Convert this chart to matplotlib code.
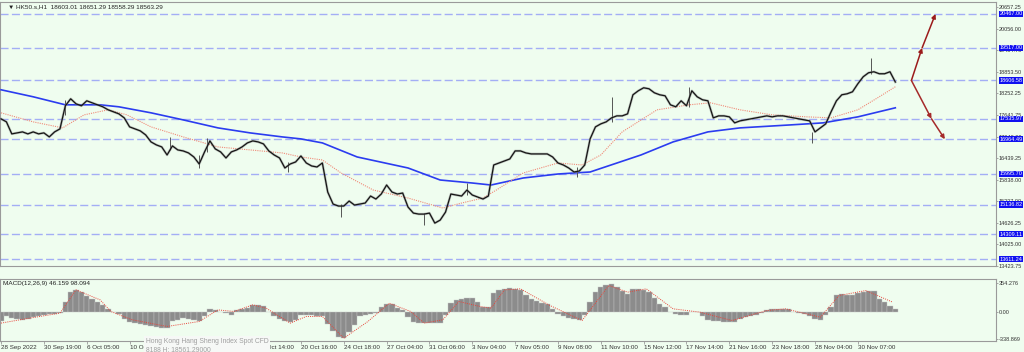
import numpy as np
import matplotlib.pyplot as plt

plt.rcParams['font.family'] = ['Liberation Sans', 'DejaVu Sans']

# hourly closes, one every 2 bars
closes = [17533, 17449, 17113, 17141, 17169, 17113, 17169, 17113, 17141, 17029,
          17169, 17253, 17898, 18094, 17954, 17898, 18038, 17982, 17926, 17870,
          17786, 17730, 17673, 17561, 17309, 17253, 17197, 17085, 16889, 16805,
          16749, 16524, 16777, 16665, 16637, 16581, 16468, 16272, 16609, 16917,
          16693, 16609, 16440, 16609, 16665, 16749, 16861, 16917, 16889, 16833,
          16637, 16524, 16440, 16160, 16272, 16328, 16496, 16300, 16216, 16188,
          16300, 15488, 15152, 15096, 15096, 15236, 15124, 15152, 15180, 15376,
          15292, 15432, 15684, 15488, 15432, 15460, 15067, 14899, 14871, 14871,
          14899, 14619, 14703, 14927, 15432, 15404, 15376, 15544, 15404, 15348,
          15292, 15376, 16244, 16300, 16356, 16412, 16637, 16637, 16581, 16553,
          16553, 16553, 16553, 16468, 16300, 16244, 16160, 16048, 16076, 16244,
          16973, 17309, 17393, 17449, 17561, 17617, 17617, 17673, 18206, 18318,
          18402, 18374, 18262, 18206, 18178, 17926, 17870, 18038, 17898, 18318,
          18150, 18066, 18038, 17561, 17617, 17617, 17589, 17421, 17477, 17505,
          17533, 17561, 17589, 17617, 17589, 17617, 17617, 17589, 17561, 17533,
          17505, 17477, 17169, 17281, 17393, 17730, 18038, 18206, 18234, 18290,
          18514, 18710, 18822, 18850, 18794, 18794, 18850, 18563]

# a few long wicks
wick_bars = [24, 63, 74, 77, 107, 127, 158, 174, 215, 228, 257, 303, 325]
wick_lo = [17645, 16665, 16160, 16609, 16048, 14788, 14563, 15404, 15908, 17449, 17870, 16861, 18794]
wick_hi = [18066, 17029, 16524, 17001, 16328, 15152, 14899, 15740, 16188, 18150, 18430, 17169, 19242]

ma_fast_bars = [0, 12, 23, 31, 40, 47, 56, 68, 81, 93, 105, 112, 120, 127, 139, 152, 165, 172,
                180, 185, 195, 208, 217, 224, 232, 245, 257, 265, 276, 288, 301, 310, 320, 328, 334]
ma_fast = [17702, 17449, 17281, 17645, 17786, 17645, 17309, 17029, 16749, 16665, 16581, 16468,
           16384, 16020, 15544, 15320, 15040, 15180, 15320, 15544, 16020, 16300, 16244, 16524,
           17169, 17786, 17926, 17982, 17786, 17645, 17589, 17561, 17786, 18150, 18430]

ma_slow_bars = [0, 12, 24, 37, 44, 56, 68, 81, 93, 105, 112, 120, 133, 152, 164, 176, 183, 195,
                208, 220, 239, 251, 264, 276, 295, 307, 320, 334]
ma_slow = [18346, 18150, 17926, 17926, 17870, 17702, 17505, 17281, 17141, 17029, 16973, 16861,
           16468, 16160, 15824, 15740, 15684, 15880, 15992, 16048, 16524, 16889, 17169, 17281,
           17365, 17421, 17589, 17842]

levels = [20467.00, 19517.00, 18606.58, 17535.97, 16964.49, 15995.70, 15136.82, 14309.11, 13611.24]
price_ticks = [20657.25, 20056.00, 19454.75, 18853.50, 18252.25, 17641.75, 17040.00, 16439.25,
               15838.00, 15237.00, 14626.25, 14025.00, 13423.75]

# MACD histogram, one every 2 bars
macd_hist = [-115, -50, -85, -95, -100, -98, -65, -50, -40, -35, -30, -20, 120, 240, 266, 240,
             190, 150, 115, 80, 35, 0, -35, -95, -135, -145, -155, -163, -178, -190, -198, -205,
             -115, -100, -82, -98, -110, -123, -60, 35, 15, 0, -20, -38, 15, 30, 41, 80, 75, 65,
             -5, -50, -90, -115, -135, -100, -41, -41, -45, -55, -61, -150, -246, -315, -328, -250,
             -170, -61, -45, -30, -20, 60, 95, 90, 41, 20, -70, -125, -143, -143, -143, -140, -143,
             -40, 105, 140, 150, 164, 165, 120, 60, 50, 230, 262, 280, 285, 278, 266, 200, 150, 125,
             110, 94, 35, -35, -55, -75, -92, -110, -40, 120, 240, 300, 325, 340, 300, 255, 220,
             275, 279, 270, 240, 165, 94, 60, 0, -35, -40, -48, 0, -5, -60, -105, -115, -120, -125,
             -128, -125, -90, -70, -55, -38, -20, 20, 25, 30, 32, 30, -8, -15, -25, -60, -95, -102,
             -40, 60, 205, 215, 200, 205, 230, 245, 255, 250, 160, 120, 70, 33]

signal_bars = [0, 7, 22, 28, 37, 41, 49, 62, 74, 81, 87, 94, 99, 108, 114, 120, 128, 137, 145,
               153, 158, 165, 171, 179, 183, 188, 194, 205, 217, 227, 234, 241, 251, 261, 273,
               286, 293, 306, 313, 323, 333]
signal = [-143, -102, -20, 266, 143, 0, -102, -184, -123, 20, 0, 82, 41, -143, -61, -61, -328,
          -123, 102, 0, -143, -102, 123, 61, 41, 266, 279, 74, -111, 320, 238, 279, 33, -8, -111,
          12, 33, -70, 197, 258, 115]

# the 12 Oct / 14 Oct labels sit fully under the tooltip in the reference
tick_labels = ['28 Sep 2022', '30 Sep 19:00', '6 Oct 05:00', '10 Oct 07:00', '',
               '', '18 Oct 14:00', '20 Oct 16:00', '24 Oct 18:00', '27 Oct 04:00',
               '31 Oct 06:00', '3 Nov 04:00', '7 Nov 05:00', '9 Nov 08:00', '11 Nov 10:00',
               '15 Nov 12:00', '17 Nov 14:00', '21 Nov 16:00', '23 Nov 18:00', '28 Nov 04:00',
               '30 Nov 07:00']

bg = '#effdef'
fig = plt.figure(figsize=(10.24, 3.52), dpi=100, facecolor=bg)
ax = fig.add_axes([0.0, 1 - 266 / 352, 996 / 1024, 264 / 352], facecolor=bg)
am = fig.add_axes([0.0, 1 - 341 / 352, 996 / 1024, 62 / 352], facecolor=bg)

bars = np.arange(len(closes)) * 2
xlim = (-0.4, 371.6)

for a in (ax, am):
    a.set_xlim(*xlim)
    for s in a.spines.values():
        s.set_color('#9a9a9a')
        s.set_linewidth(0.8)
    a.yaxis.tick_right()
    a.tick_params(axis='y', length=1.2, width=0.6, colors='#9a9a9a', labelcolor='#333333',
                  labelsize=4.0, pad=0.8)

# price panel
ax.set_ylim(13420, 20800)
for lv in levels:
    ax.axhline(lv, color='#a3aef5', lw=1.0, ls=(0, (5.8, 2.4)), zorder=1)
ax.plot(ma_slow_bars, ma_slow, color='#2b3cf0', lw=1.2, zorder=3)
ax.plot(ma_fast_bars, ma_fast, color='#f08a78', lw=0.8, ls=(0, (1, 1)), zorder=3)
ax.vlines(wick_bars, wick_lo, wick_hi, color='#555555', lw=0.7, zorder=4)
ax.plot(bars, closes, color='#8a8a8a', lw=1.8, alpha=0.5, zorder=4)
ax.plot(bars, closes, color='#151515', lw=0.9, zorder=5)

# projection arrows
origin = (340, levels[2])
up_pts = [(344, levels[1]), (349, levels[0])]
dn_pts = [(347.5, levels[3]), (352.5, levels[4])]
for pts, col in ((up_pts, '#9b1b1b'), (dn_pts, '#a52a2a')):
    start = origin
    for p in pts:
        ax.annotate('', xy=p, xytext=start,
                    arrowprops=dict(arrowstyle='-|>', color=col, lw=1.1,
                                    mutation_scale=6, shrinkA=0, shrinkB=0))
        start = p

ax.set_yticks(price_ticks)
ax.set_yticklabels([f'{t:.2f}' for t in price_ticks])
ax.set_xticks([])
for lv in levels:
    ax.text(1.0035, lv, f'{lv:.2f}', transform=ax.get_yaxis_transform(), fontsize=4.0,
            color='white', va='center', ha='left', zorder=10, clip_on=False,
            bbox=dict(boxstyle='square,pad=0.12', fc='#1010f0', ec='none'))

ax.text(0.008, 0.99, '\u25bc HK50.s,H1  18603.01 18651.29 18558.29 18563.29',
        transform=ax.transAxes, fontsize=4.6, color='#222222', va='top', ha='left')

# MACD panel
am.set_ylim(-363, 400)
am.bar(bars, macd_hist, width=2.0, color='#8c8c8c', edgecolor='#c4c4c4', linewidth=0.3, zorder=2)
am.plot(signal_bars, signal, color='#e8443a', lw=0.7, ls=(0, (1, 1.2)), zorder=3)
am.set_yticks([354.276, 0, -338.869])
am.set_yticklabels(['354.276', '0.00', '-338.869'])
am.set_xticks(np.arange(len(tick_labels)) * 16)
am.set_xticklabels(tick_labels, fontsize=4.5, ha='left', color='#333333')
am.tick_params(axis='x', length=2, width=0.6, colors='#9a9a9a', labelcolor='#333333', pad=1)
am.text(0.003, 0.96, 'MACD(12,26,9) 46.159 98.094', transform=am.transAxes, fontsize=4.6,
        color='#222222', va='top', ha='left')

# tooltip overlay
fig.text(146 / 1024, 1 - 338 / 352,
         'Hong Kong Hang Sheng Index Spot CFD\n8188 H: 18561.29000',
         fontsize=4.9, color='#a0a0a0', va='top', ha='left', linespacing=1.3,
         bbox=dict(boxstyle='square,pad=0.25', fc='#f6f8f6', ec='none'), zorder=20)

fig.savefig('out.png', dpi=100, facecolor=bg)
